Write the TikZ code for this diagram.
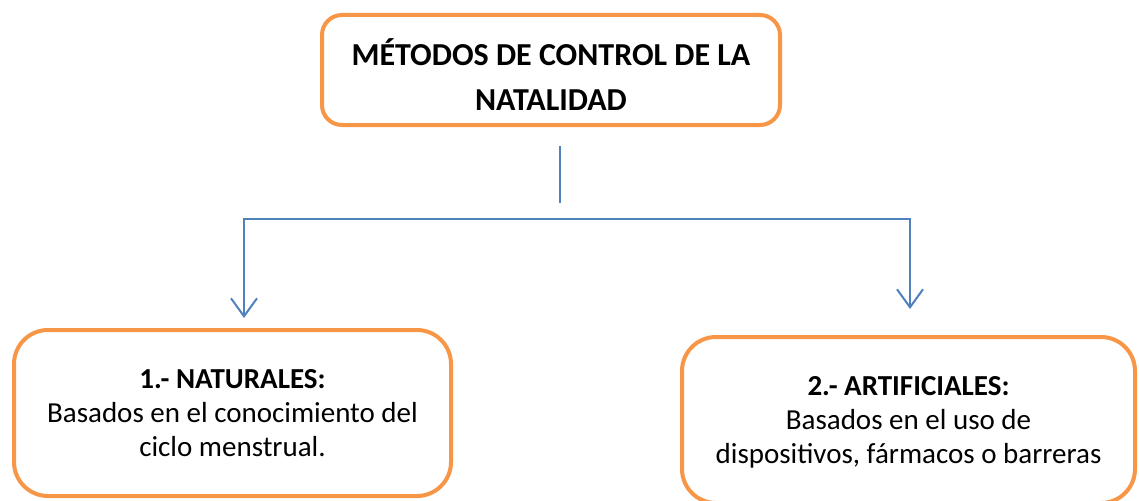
\documentclass[tikz,border=0pt]{standalone}
\usepackage{fontspec}
\setmainfont{Carlito}
\usetikzlibrary{arrows.meta,positioning}
\definecolor{boxorange}{RGB}{247,150,70}
\definecolor{lineblue}{RGB}{79,129,189}

\begin{document}
\begin{tikzpicture}[
    x=1pt, y=-1pt,
    titlebox/.style={rectangle, draw=boxorange, line width=4pt, rounded corners=20pt, minimum width=458pt, minimum height=110pt, align=center, text height=81pt, text depth=0pt, font=\fontsize{32}{45}\selectfont\bfseries},
    methodbox/.style={rectangle, draw=boxorange, line width=4pt, rounded corners=34pt, minimum height=166pt, align=center, text depth=0pt, font=\fontsize{29}{34}\selectfont},
    link/.style={draw=lineblue, line width=2pt},
    arrow/.style={link, -{Straight Barb[length=18pt, width=26pt, line width=2pt]}}
]
\useasboundingbox (0,0) rectangle (1139,500);

\node[titlebox] (title) at (551,70) {MÉTODOS DE CONTROL DE LA\\NATALIDAD};

\node[methodbox, minimum width=437pt] (naturales) at (232.5,413) {\textbf{1.- NATURALES:}\\Basados en el conocimiento del\\ciclo menstrual.};
\node[methodbox, minimum width=453pt] (artificiales) at (908.5,420) {\textbf{2.- ARTIFICIALES:}\\Basados en el uso de\\dispositivos, fármacos o barreras};

\coordinate (stubtop) at (560,146);
\coordinate (stubend) at (560,203);
\coordinate (split) at (560,219);
\coordinate (natin) at (244,318);
\coordinate (artin) at (910,309);

\draw[link] (stubtop) -- (stubend);
\draw[arrow] (split) -| (natin);
\draw[arrow] (split) -| (artin);
\end{tikzpicture}
\end{document}
